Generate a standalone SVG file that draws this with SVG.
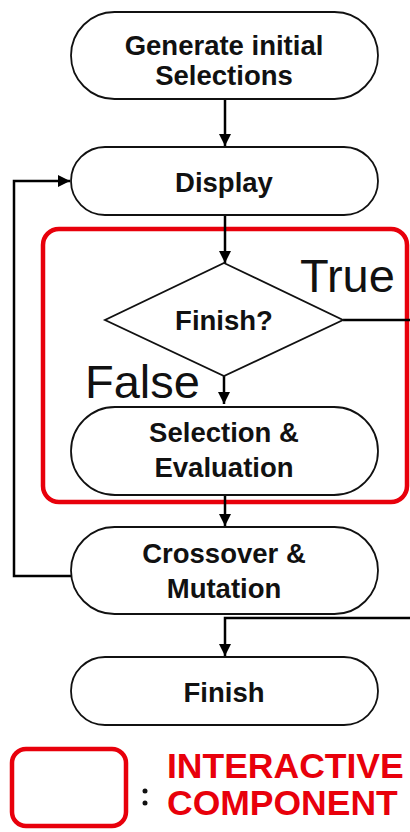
<svg xmlns="http://www.w3.org/2000/svg" width="410" height="832" viewBox="0 0 410 832">
<style>
.node{fill:#fff;stroke:#111;stroke-width:1.8}
.lbl{font-family:"Liberation Sans",Arial,sans-serif;font-weight:bold;font-size:27.5px;fill:#111;text-anchor:middle}
.big{font-family:"Liberation Sans",Arial,sans-serif;font-size:47px;fill:#111}
.conn{fill:none;stroke:#000;stroke-width:2.5}
.red{fill:none;stroke:#e8000b;stroke-width:4.5}
.legend{font-family:"Liberation Sans",Arial,sans-serif;font-weight:bold;font-size:35.5px;fill:#e8000b}
</style>
<defs>
<marker id="ah" viewBox="0 0 12 12" refX="12" refY="6" markerWidth="12" markerHeight="12" markerUnits="userSpaceOnUse" orient="auto">
<path d="M0,0 L12,6 L0,12 Z" fill="#000"/>
</marker>
</defs>
<g id="interactive-box"><rect class="red" x="43" y="229" width="364" height="273" rx="16"/></g>
<g id="connectors">
<path class="conn" d="M225,99 V146" marker-end="url(#ah)"/>
<path class="conn" d="M225,215 V263" marker-end="url(#ah)"/>
<path class="conn" d="M224,376 V404" marker-end="url(#ah)"/>
<path class="conn" d="M225,495 V526" marker-end="url(#ah)"/>
<path class="conn" d="M71,576 H14 V181 H70" marker-end="url(#ah)"/>
<path class="conn" d="M343,320 H412"/>
<path class="conn" d="M412,618 H225 V656" marker-end="url(#ah)"/>
</g>
<g id="generate"><rect class="node" x="71" y="12" width="307" height="87" rx="43.5"/><text class="lbl" x="224" y="55">Generate initial</text><text class="lbl" x="224" y="85">Selections</text></g>
<g id="display"><rect class="node" x="71" y="147" width="307" height="68" rx="34"/><text class="lbl" x="224" y="192">Display</text></g>
<g id="finish-decision"><polygon class="node" points="224,263 343,320 224,376 105,320"/><text class="lbl" x="224" y="330">Finish?</text>
<text class="big" x="300" y="292">True</text><text class="big" x="85" y="398">False</text></g>
<g id="selection"><rect class="node" x="71" y="407" width="307" height="88" rx="44"/><text class="lbl" x="224" y="442">Selection &amp;</text><text class="lbl" x="224" y="477">Evaluation</text></g>
<g id="crossover"><rect class="node" x="71" y="527" width="307" height="87" rx="43.5"/><text class="lbl" x="224" y="563">Crossover &amp;</text><text class="lbl" x="224" y="598">Mutation</text></g>
<g id="finish"><rect class="node" x="71" y="657" width="307" height="68" rx="34"/><text class="lbl" x="224" y="702">Finish</text></g>
<g id="legend"><rect class="red" x="12" y="749" width="114" height="77" rx="14"/>
<circle cx="145" cy="791" r="2.5" fill="#111"/><circle cx="145" cy="803" r="2.5" fill="#111"/>
<text class="legend" x="167" y="778">INTERACTIVE</text><text class="legend" x="167" y="815">COMPONENT</text></g>
</svg>
